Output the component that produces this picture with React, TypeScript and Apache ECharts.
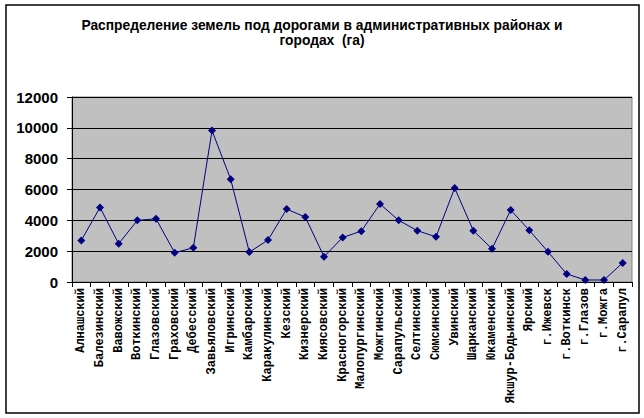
import React, { useEffect, useRef } from "react";
import * as echarts from "echarts";

const categories = [
  "Алнашский", "Балезинский", "Вавожский", "Воткинский", "Глазовский",
  "Граховский", "Дебесский", "Завьяловский", "Игринский", "Камбарский",
  "Каракулинский", "Кезский", "Кизнерский", "Киясовский", "Красногорский",
  "Малопургинский", "Можгинский", "Сарапульский", "Селтинский", "Сюмсинский",
  "Увинский", "Шарканский", "Юкаменский", "Якшур-Бодьинский", "Ярский",
  "г.Ижевск", "г.Воткинск", "г.Глазов", "г.Можга", "г.Сарапул",
];

const values = [
  2700, 4840, 2480, 4000, 4100, 1900, 2220, 9820, 6670, 1940,
  2720, 4730, 4210, 1640, 2890, 3300, 5060, 4000, 3330, 2930,
  6100, 3330, 2150, 4670, 3350, 1960, 520, 130, 130, 1240,
];

const title = "Распределение земель под дорогами в административных районах и\nгородах  (га)";

export default function App() {
  const ref = useRef<HTMLDivElement>(null);
  useEffect(() => {
    const chart = echarts.init(ref.current!, undefined, { renderer: "svg" });
    chart.setOption({
      animation: false,
      backgroundColor: "#ffffff",
      title: {
        text: title,
        left: "center",
        top: 13,
        textStyle: {
          fontFamily: "Liberation Sans",
          fontWeight: "bold",
          fontSize: 13.8,
          lineHeight: 15,
          color: "#000",
        },
      },
      graphic: [
        {
          type: "rect",
          shape: { x: 6, y: 5, width: 633, height: 408 },
          style: { fill: "none", stroke: "#000", lineWidth: 1.5 },
          silent: true,
        },
      ],
      grid: {
        left: 72,
        right: 12,
        top: 97,
        bottom: 136,
        show: true,
        backgroundColor: "#c0c0c0",
        borderColor: "#808080",
        borderWidth: 1,
      },
      xAxis: {
        type: "category",
        data: categories,
        boundaryGap: true,
        axisLine: { lineStyle: { color: "#000", width: 1 } },
        axisTick: { show: true, length: 5, alignWithLabel: false, lineStyle: { color: "#000" } },
        axisLabel: {
          rotate: 90,
          interval: 0,
          margin: 6,
          fontFamily: "Liberation Mono",
          fontSize: 12,
          fontWeight: "bold",
          color: "#000",
        },
      },
      yAxis: {
        type: "value",
        min: 0,
        max: 12000,
        interval: 2000,
        axisLine: { show: true, lineStyle: { color: "#000", width: 1 } },
        axisTick: { show: true, length: 5, lineStyle: { color: "#000" } },
        splitLine: { show: true, lineStyle: { color: "#000", width: 1 } },
        axisLabel: {
          margin: 14,
          formatter: (v: number) => String(v),
          fontFamily: "Liberation Sans",
          fontSize: 15,
          fontWeight: "bold",
          color: "#000",
        },
      },
      series: [
        {
          type: "line",
          data: values,
          symbol: "diamond",
          symbolSize: 8,
          lineStyle: { color: "#000080", width: 1 },
          itemStyle: { color: "#000080" },
        },
      ],
    });
    return () => chart.dispose();
  }, []);
  return <div ref={ref} style={{ width: 644, height: 418, position: "fixed", left: 0, top: 0 }} />;
}
